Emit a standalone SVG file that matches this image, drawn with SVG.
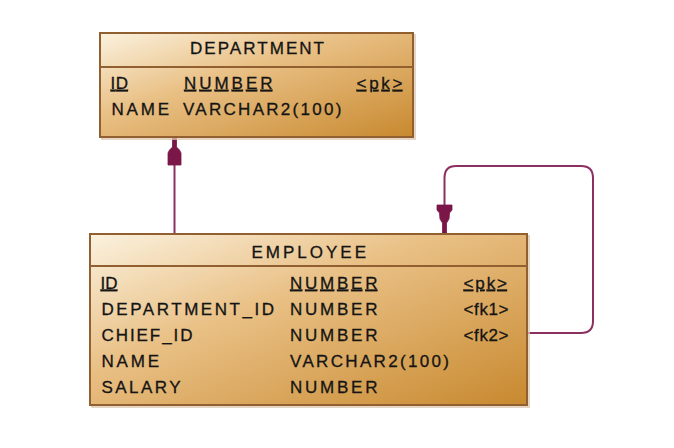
<svg xmlns="http://www.w3.org/2000/svg" width="674" height="448" viewBox="0 0 674 448">
<defs>
<linearGradient id="fill" x1="0" y1="0" x2="1" y2="1">
<stop offset="0" stop-color="#fbf2df"/>
<stop offset="0.4" stop-color="#e9c085"/>
<stop offset="1" stop-color="#c8892f"/>
</linearGradient>
<style>
.box{fill:url(#fill);stroke:#925f30;stroke-width:2}
.shadow{fill:none;stroke:#dcc8b2;stroke-width:1.5}
.sep{stroke:#925f30;stroke-width:2}
text{font-family:"Liberation Sans",Arial,sans-serif;font-size:17px;fill:#141414;stroke:#141414;stroke-width:0.3}
.ul{text-decoration:underline}
.conn{fill:none;stroke:#8c2f61;stroke-width:2}
.arrow{fill:#7a1748;stroke:#7a1748;stroke-width:0.8}
</style>
</defs>
<rect width="674" height="448" fill="#ffffff"/>
<g id="connectors">
<path class="conn" d="M174.5 137 V234"/>
<polygon class="arrow" points="172.5,137 176.5,137 176.5,147 179.5,150 181,153 181,165 168,165 168,153 169.5,150 172.5,147"/>
<path class="conn" d="M527 333 H581 Q593 333 593 321 V178 Q593 166 581 166 H456 Q444.5 166 444.5 178 V234"/>
<polygon class="arrow" points="437,205 452,205 452,210 449.5,213 449,219 446.5,223 446.5,233 442.5,233 442.5,223 440,219 439.5,213 437,210"/>
</g>
<g id="department">
<rect class="shadow" x="102" y="35" width="313" height="104"/>
<rect class="box" x="100" y="33" width="313" height="104"/>
<line class="sep" x1="100" y1="67" x2="413" y2="67"/>
<text x="190" y="53.8" textLength="134" lengthAdjust="spacing">DEPARTMENT</text>
<text class="ul" x="110.5" y="88.8" textLength="17.5" lengthAdjust="spacing">ID</text>
<text class="ul" x="184" y="88.8" textLength="88.5" lengthAdjust="spacing">NUMBER</text>
<text class="ul" x="356.5" y="88.8" textLength="46" lengthAdjust="spacing">&lt;pk&gt;</text>
<text x="111.5" y="114.8" textLength="57.5" lengthAdjust="spacing">NAME</text>
<text x="183" y="114.8" textLength="158.5" lengthAdjust="spacing">VARCHAR2(100)</text>
</g>
<g id="employee">
<rect class="shadow" x="92" y="236" width="437" height="171"/>
<rect class="box" x="90" y="234" width="437" height="171"/>
<line class="sep" x1="90" y1="266" x2="527" y2="266"/>
<text x="251.5" y="257.8" textLength="114.5" lengthAdjust="spacing">EMPLOYEE</text>
<text class="ul" x="100.5" y="288.5" textLength="17" lengthAdjust="spacing">ID</text>
<text class="ul" x="290" y="288.5" textLength="87.5" lengthAdjust="spacing">NUMBER</text>
<text class="ul" x="463.5" y="288.5" textLength="43.5" lengthAdjust="spacing">&lt;pk&gt;</text>
<text x="101.5" y="315" textLength="172.5" lengthAdjust="spacing">DEPARTMENT_ID</text>
<text x="290" y="315" textLength="87.5" lengthAdjust="spacing">NUMBER</text>
<text x="463.5" y="315" textLength="45" lengthAdjust="spacing">&lt;fk1&gt;</text>
<text x="101.5" y="340.8" textLength="91" lengthAdjust="spacing">CHIEF_ID</text>
<text x="290" y="340.8" textLength="87.5" lengthAdjust="spacing">NUMBER</text>
<text x="463.5" y="340.8" textLength="45" lengthAdjust="spacing">&lt;fk2&gt;</text>
<text x="101.5" y="367" textLength="57.5" lengthAdjust="spacing">NAME</text>
<text x="290" y="367" textLength="159" lengthAdjust="spacing">VARCHAR2(100)</text>
<text x="101.5" y="393.4" textLength="79" lengthAdjust="spacing">SALARY</text>
<text x="290" y="393.4" textLength="87.5" lengthAdjust="spacing">NUMBER</text>
</g>
</svg>
